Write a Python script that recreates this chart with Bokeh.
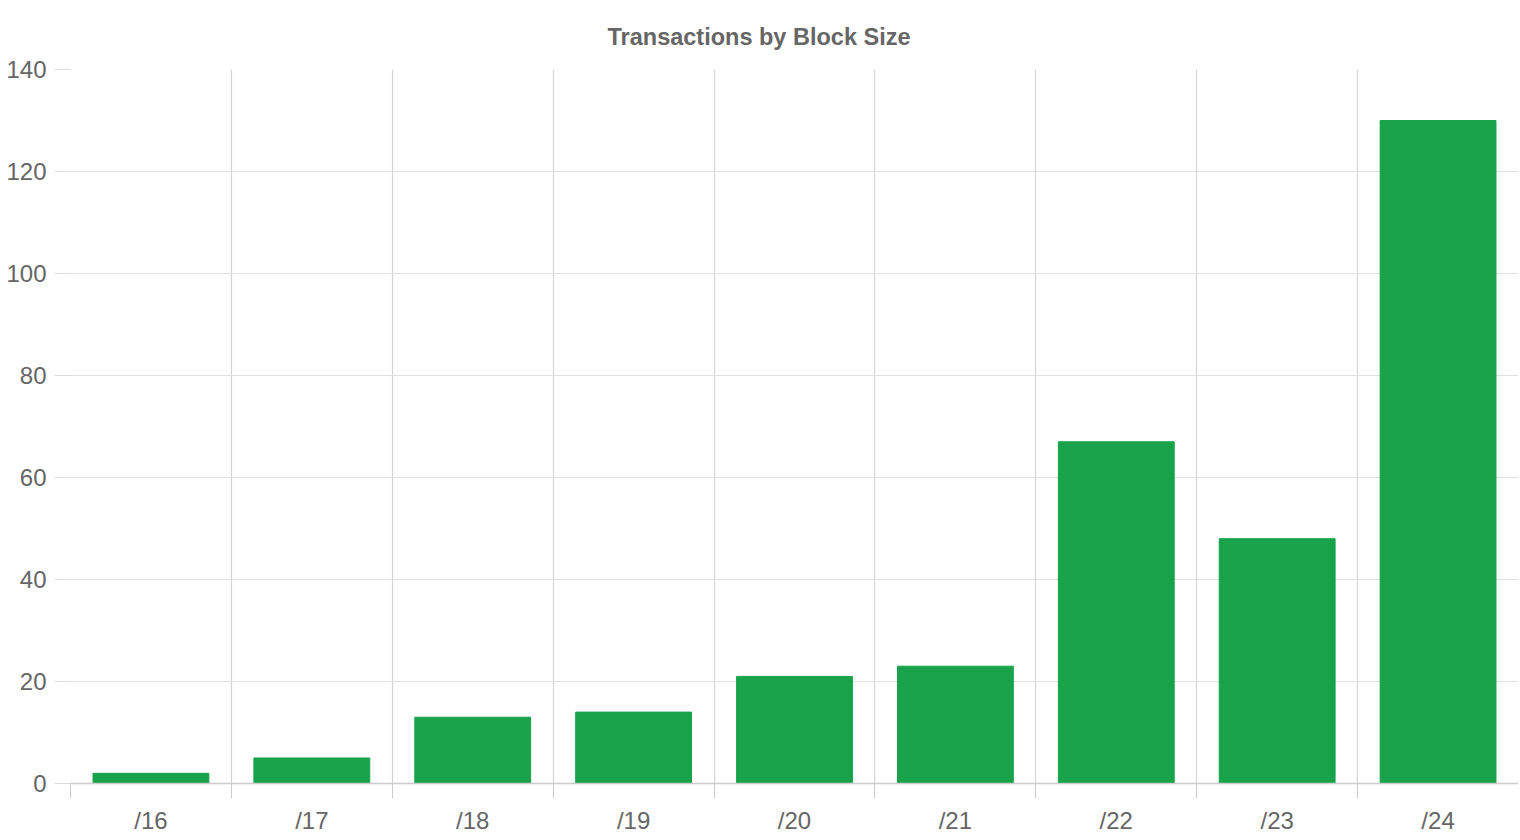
from bokeh.plotting import figure
from bokeh.models import Range1d, FixedTicker, ColumnDataSource
from bokeh.embed import file_html
from bokeh.resources import INLINE

categories = ["/16", "/17", "/18", "/19", "/20", "/21", "/22", "/23", "/24"]
transactions = [2, 5, 13, 14, 21, 23, 67, 48, 130]
y_ticks = [0, 20, 40, 60, 80, 100, 120, 140]

n = len(categories)
centers = [i + 0.5 for i in range(n)]
bounds = [float(i) for i in range(n + 1)]

src = ColumnDataSource(dict(x=centers, top=transactions, cat=categories))

p = figure(
    frame_width=1448, frame_height=714,
    x_range=Range1d(0, n), y_range=Range1d(0, 140),
    output_backend="svg", toolbar_location=None,
    min_border_left=70, min_border_right=0, min_border_top=69, min_border_bottom=45,
    title="Transactions by Block Size",
)
p.outline_line_color = None
p.background_fill_color = "white"
p.border_fill_color = "white"

p.title.align = "left"
p.title.text_font = "Liberation Sans"
p.title.text_font_size = "23.5px"
p.title.text_font_style = "bold"
p.title.text_color = "#666666"
p.title.standoff = 39
p.title.offset = 537

p.vbar(x="x", top="top", width=0.72, bottom=0, source=src,
       fill_color="#18A34A", line_color="#18A34A")

# x axis
xa = p.xaxis[0]
xa.ticker = FixedTicker(ticks=centers, minor_ticks=bounds)
xa.major_label_overrides = {c: lab for c, lab in zip(centers, categories)}
xa.major_tick_line_color = None
xa.minor_tick_line_color = "#cccccc"
xa.minor_tick_out = 15
xa.minor_tick_in = 0
xa.axis_line_color = "#cccccc"
xa.axis_line_width = 1.5
xa.major_label_text_font = "Liberation Sans"
xa.major_label_text_font_size = "24px"
xa.major_label_text_color = "#666666"
xa.major_label_standoff = 8

# y axis
ya = p.yaxis[0]
ya.ticker = FixedTicker(ticks=y_ticks)
ya.minor_tick_line_color = None
ya.axis_line_color = None
ya.major_tick_line_color = "#dddddd"
ya.major_tick_out = 16
ya.major_tick_in = 0
ya.major_label_text_font = "Liberation Sans"
ya.major_label_text_font_size = "24px"
ya.major_label_text_color = "#666666"
ya.major_label_standoff = 8

p.xgrid.ticker = FixedTicker(ticks=bounds)
p.xgrid.grid_line_color = "#d4d4d4"
p.xgrid.grid_line_width = 1.2
p.ygrid.grid_line_color = "#e0e0e0"
p.ygrid.grid_line_width = 1.2

open("out.html", "w").write(file_html(p, INLINE))
